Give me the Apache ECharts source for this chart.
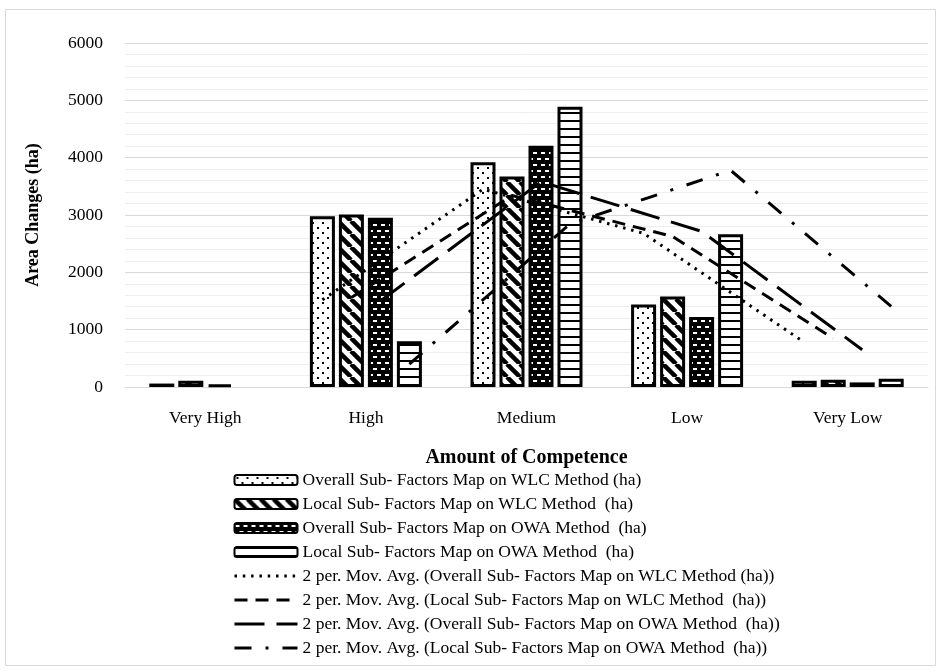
<!DOCTYPE html>
<html>
<head>
<meta charset="utf-8">
<script src="https://cdn.jsdelivr.net/npm/echarts@6/dist/echarts.min.js"></script>
<style>
  html, body { margin: 0; padding: 0; background: #fff; }
  #chart { width: 941px; height: 671px; }
</style>
</head>
<body>
<div id="chart"></div>
<script>
// Competence classes along the horizontal axis
const categories = ['Very High', 'High', 'Medium', 'Low', 'Very Low'];

// Area changes (ha) per map / method
const overallWLC = [60, 2980, 3920, 1440, 110];
const localWLC   = [110, 3010, 3670, 1580, 125];
const overallOWA = [45, 2950, 4210, 1220, 80];
const localOWA   = [0, 800, 4890, 2665, 145];

// 2-period moving-average trendlines
const maOverallWLC = [null, 1520, 3450, 2680, 780];
const maLocalWLC   = [null, 1560, 3340, 2625, 850];
const maOverallOWA = [null, 1500, 3580, 2715, 650];
const maLocalOWA   = [null, 400, 2845, 3780, 1405];

const barNames = [
  'Overall Sub- Factors Map on WLC Method (ha)',
  'Local Sub- Factors Map on WLC Method  (ha)',
  'Overall Sub- Factors Map on OWA Method  (ha)',
  'Local Sub- Factors Map on OWA Method  (ha)'
];
const trendNames = [
  '2 per. Mov. Avg. (Overall Sub- Factors Map on WLC Method (ha))',
  '2 per. Mov. Avg. (Local Sub- Factors Map on WLC Method  (ha))',
  '2 per. Mov. Avg. (Overall Sub- Factors Map on OWA Method  (ha))',
  '2 per. Mov. Avg. (Local Sub- Factors Map on OWA Method  (ha))'
];

const FONT = '"Liberation Serif", "Times New Roman", serif';
const W = 941, H = 671;
const GRID = { left: 125, right: 13, top: 43, bottom: 284 };
const BAR_W = 25, BAR_GAP = 4;

// Canvas tiles used as bar fills
function tile(w, h, draw) {
  const c = document.createElement('canvas');
  c.width = w; c.height = h;
  const ctx = c.getContext('2d');
  draw(ctx, w, h);
  return { image: c, repeat: 'repeat' };
}
const dotFill = tile(10, 10, (ctx, w, h) => {
  ctx.fillStyle = '#fff'; ctx.fillRect(0, 0, w, h);
  ctx.fillStyle = '#000';
  ctx.fillRect(2, 2, 2, 2);
  ctx.fillRect(7, 7, 2, 2);
});
const diagFill = tile(13, 13, (ctx, w, h) => {
  ctx.fillStyle = '#fff'; ctx.fillRect(0, 0, w, h);
  ctx.strokeStyle = '#000'; ctx.lineWidth = 4.5;
  for (const o of [-13, 0, 13]) {
    ctx.beginPath(); ctx.moveTo(o, 0); ctx.lineTo(o + 13, 13); ctx.stroke();
  }
});
const brickFill = tile(8, 12, (ctx, w, h) => {
  ctx.fillStyle = '#000'; ctx.fillRect(0, 0, w, h);
  ctx.fillStyle = '#fff';
  ctx.fillRect(1, 2, 4, 2);
  ctx.fillRect(5, 8, 3, 2);
  ctx.fillRect(0, 8, 1, 2);
});
const hlineFill = tile(4, 8, (ctx, w, h) => {
  ctx.fillStyle = '#fff'; ctx.fillRect(0, 0, w, h);
  ctx.fillStyle = '#000'; ctx.fillRect(0, 0, w, 2);
});

const barValues = [overallWLC, localWLC, overallOWA, localOWA];
const barFills = [dotFill, diagFill, brickFill, hlineFill];
const trendValues = [maOverallWLC, maLocalWLC, maOverallOWA, maLocalOWA];
const trendDash = [[2.5, 5.8], [13, 8], [30, 12], [17, 14, 3, 14]];

// Each trendline sits over the centre of its own bar within the cluster
const catWidth = (W - GRID.left - GRID.right) / categories.length;
const barOffset = k => ((k - 1.5) * (BAR_W + BAR_GAP)) / catWidth;

const series = [];
barValues.forEach((vals, k) => {
  series.push({
    name: barNames[k],
    type: 'bar',
    xAxisIndex: 0,
    // a zero-height column gets no outline
    data: vals.map(v => v === 0 ? { value: v, itemStyle: { borderWidth: 0 } } : v),
    barWidth: BAR_W,
    barGap: (BAR_GAP / BAR_W * 100) + '%',
    itemStyle: { color: barFills[k], borderColor: '#000', borderWidth: 3 },
    z: 2
  });
});
trendValues.forEach((vals, k) => {
  const pts = [];
  vals.forEach((v, i) => { if (v != null) pts.push([i + barOffset(k), v]); });
  series.push({
    name: trendNames[k],
    type: 'line',
    xAxisIndex: 1,
    data: pts,
    symbol: 'none',
    showSymbol: false,
    lineStyle: { color: '#000', width: 3, type: trendDash[k] },
    itemStyle: { color: '#000' },
    z: 3
  });
});

const chart = echarts.init(document.getElementById('chart'), null, { renderer: 'canvas', devicePixelRatio: 1 });
chart.setOption({
  animation: false,
  backgroundColor: '#fff',
  graphic: [{
    type: 'rect',
    shape: { x: 5.5, y: 9.5, width: 930, height: 656 },
    style: { fill: null, stroke: '#d9d9d9', lineWidth: 1 },
    silent: true, z: -10
  }],
  grid: GRID,
  legend: {
    orient: 'vertical',
    left: 233,
    top: 468,
    padding: 0,
    itemGap: 0,
    itemWidth: 63,
    itemHeight: 10,
    lineStyle: { width: 3 },
    textStyle: { fontFamily: FONT, fontSize: 17.5, color: '#000', lineHeight: 24 },
    data: barNames.map(n => ({ name: n })).concat(trendNames.map(n => ({
      name: n,
      // trendline keys show the dashed stroke only, no marker
      itemStyle: { color: 'rgba(0,0,0,0)', borderWidth: 0, opacity: 0 }
    })))
  },
  xAxis: [{
    type: 'category',
    data: categories,
    axisLine: { lineStyle: { color: '#d9d9d9', width: 1 } },
    axisTick: { show: false },
    axisLabel: { color: '#000', fontFamily: FONT, fontSize: 17.5, margin: 22 },
    name: 'Amount of Competence',
    nameLocation: 'middle',
    nameGap: 61,
    nameTextStyle: { color: '#000', fontFamily: FONT, fontSize: 20, fontWeight: 'bold' }
  }, {
    type: 'value',
    min: -0.5,
    max: 4.5,
    show: false
  }],
  yAxis: {
    type: 'value',
    min: 0,
    max: 6000,
    interval: 1000,
    axisLine: { show: false },
    axisTick: { show: false },
    axisLabel: { color: '#000', fontFamily: FONT, fontSize: 17.5, margin: 22, formatter: v => String(v) },
    splitLine: { lineStyle: { color: '#d9d9d9', width: 1 } },
    minorTick: { show: false, splitNumber: 5 },
    minorSplitLine: { show: true, lineStyle: { color: '#eeeeee', width: 1 } },
    name: 'Area Changes (ha)',
    nameLocation: 'middle',
    nameGap: 83,
    nameTextStyle: { color: '#000', fontFamily: FONT, fontSize: 18, fontWeight: 'bold' }
  },
  series: series
});
</script>
</body>
</html>
